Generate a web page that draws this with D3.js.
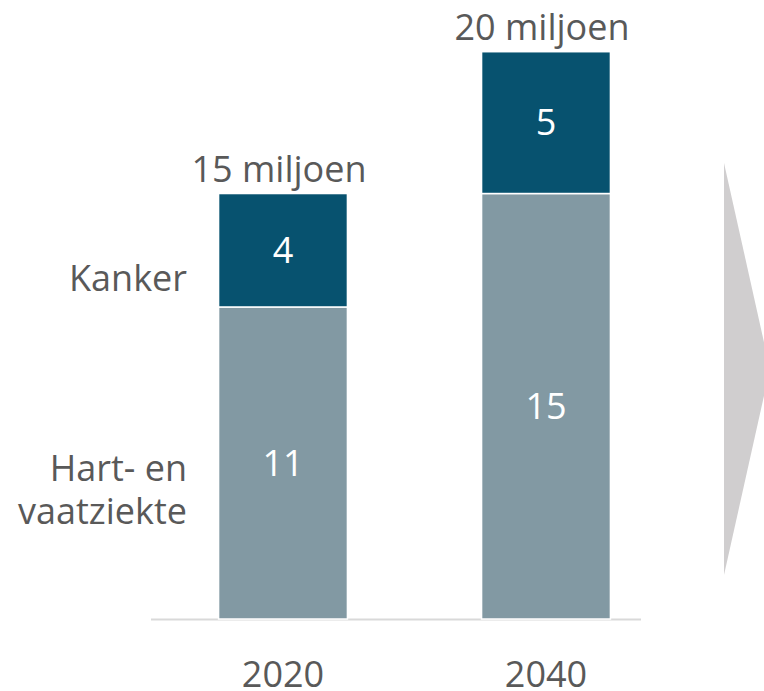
<!DOCTYPE html>
<html>
<head>
<meta charset="utf-8">
<script src="https://cdn.jsdelivr.net/npm/d3@7"></script>
<style>
  body { margin: 0; background: #fff; }
  text { font-family: 'Open Sans', sans-serif; }
</style>
</head>
<body>
<div id="container"></div>
<script>
const years = ['2020', '2040'];
const hartValues = [11, 15];
const kankerValues = [4, 5];
const totalLabels = ['15 miljoen', '20 miljoen'];
const seriesNames = ['Hart- en vaatziekte', 'Kanker'];

const dimensions = { x: 764, y: 691 };
const baseline = 619;
const fontSize = 36;
const textColor = '#595959';
const colors = { hart: '#8299a3', kanker: '#07526f' };

const svg = d3
  .select('#container')
  .append('svg')
  .attr('width', dimensions.x)
  .attr('height', dimensions.y);

const xScale = d3
  .scaleBand()
  .domain(years)
  .range([151.5, 677.5])
  .paddingInner(0.51)
  .paddingOuter(0.255);

const yScale = d3.scaleLinear().domain([0, 20]).range([baseline, 51.7]);

const stacked = years.map((y, i) => ({
  year: y,
  hart: hartValues[i],
  kanker: kankerValues[i],
  label: totalLabels[i],
}));
const stack = d3.stack().keys(['hart', 'kanker'])(stacked);

// grey arrow on the right
svg
  .append('path')
  .attr('d', 'M724,163 L770,369 L724,575 Z')
  .attr('fill', '#d0cecf');

// axis line
svg
  .append('line')
  .attr('x1', 151)
  .attr('x2', 641)
  .attr('y1', baseline + 0.5)
  .attr('y2', baseline + 0.5)
  .attr('stroke', '#d9d9d9')
  .attr('stroke-width', 2);

const layers = svg
  .selectAll('g.layer')
  .data(stack)
  .enter()
  .append('g')
  .attr('class', 'layer')
  .attr('fill', (d) => colors[d.key]);

layers
  .selectAll('rect')
  .data((d) => d)
  .enter()
  .append('rect')
  .attr('x', (d) => xScale(d.data.year))
  .attr('width', xScale.bandwidth())
  .attr('y', (d) => yScale(d[1]))
  .attr('height', (d) => yScale(d[0]) - yScale(d[1]))
  .attr('stroke', '#fff')
  .attr('stroke-width', 1.5);

// values inside segments
layers
  .selectAll('text')
  .data((d) => d)
  .enter()
  .append('text')
  .attr('x', (d) => xScale(d.data.year) + xScale.bandwidth() / 2)
  .attr('y', (d) => (yScale(d[0]) + yScale(d[1])) / 2)
  .attr('dy', '0.35em')
  .attr('text-anchor', 'middle')
  .attr('fill', '#fff')
  .style('font-size', fontSize + 'px')
  .text((d) => d[1] - d[0]);

// totals above bars
svg
  .selectAll('text.total')
  .data(stacked)
  .enter()
  .append('text')
  .attr('class', 'total')
  .attr('x', (d) => xScale(d.year) + xScale.bandwidth() / 2 - 4)
  .attr('y', (d) => yScale(d.hart + d.kanker) - 11.5)
  .attr('text-anchor', 'middle')
  .attr('fill', textColor)
  .style('font-size', fontSize + 'px')
  .text((d) => d.label);

// year labels
svg
  .selectAll('text.year')
  .data(years)
  .enter()
  .append('text')
  .attr('class', 'year')
  .attr('x', (d) => xScale(d) + xScale.bandwidth() / 2)
  .attr('y', 686.5)
  .attr('text-anchor', 'middle')
  .attr('fill', textColor)
  .style('font-size', fontSize + 'px')
  .text((d) => d);

// series labels on the left
const labelX = 187;
svg
  .append('text')
  .attr('x', labelX)
  .attr('y', 291)
  .attr('text-anchor', 'end')
  .attr('fill', textColor)
  .style('font-size', fontSize + 'px')
  .text(seriesNames[1]);

const hartLabel = svg
  .append('text')
  .attr('x', labelX)
  .attr('y', 481)
  .attr('text-anchor', 'end')
  .attr('fill', textColor)
  .style('font-size', fontSize + 'px');
hartLabel.append('tspan').attr('x', labelX).text('Hart- en');
hartLabel.append('tspan').attr('x', labelX).attr('dy', 43).text('vaatziekte');
</script>
</body>
</html>
